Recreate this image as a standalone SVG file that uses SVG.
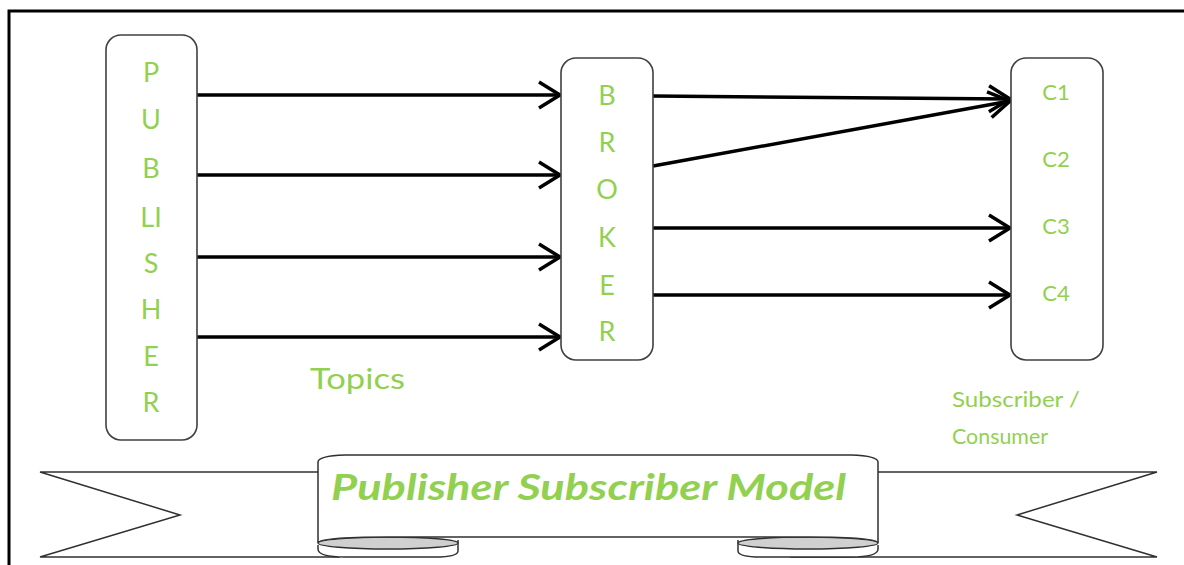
<svg xmlns="http://www.w3.org/2000/svg" width="1184" height="565" viewBox="0 0 1184 565">
<defs>
<style>
.box{fill:#fff;stroke:#404040;stroke-width:1.6}
.lbl{font-family:Lato,"Open Sans","Liberation Sans",sans-serif;fill:#92d050}
.mid{text-anchor:middle}
.big{font-size:27px}
.c{font-size:22px}
.con{stroke:#000;stroke-width:3.5;fill:none;marker-end:url(#ah)}
.rib{fill:#fff;stroke:#303030;stroke-width:1.5}
.fold{fill:#d0d0d0;stroke:#303030;stroke-width:1.3}
</style>
<marker id="ah" markerUnits="userSpaceOnUse" markerWidth="26" markerHeight="30" refX="22" refY="14" orient="auto" viewBox="0 0 26 28">
<path d="M1,1 L22,14 L1,27" fill="none" stroke="#000" stroke-width="3.5"/>
</marker>
</defs>
<rect width="1184" height="565" fill="#fff"/>
<path d="M9,565 V11 H1184" fill="none" stroke="#000" stroke-width="3"/>

<g id="connectors">
<line class="con" x1="197" y1="95" x2="560" y2="95"/>
<line class="con" x1="197" y1="175" x2="560" y2="175"/>
<line class="con" x1="197" y1="257" x2="560" y2="257"/>
<line class="con" x1="197" y1="337" x2="560" y2="337"/>
<line class="con" x1="653" y1="96" x2="1010" y2="99"/>
<line class="con" x1="653" y1="166" x2="1010" y2="101"/>
<line class="con" x1="653" y1="228" x2="1010" y2="228"/>
<line class="con" x1="653" y1="295" x2="1010" y2="295"/>
</g>

<g id="publisher">
<rect class="box" x="106" y="35" width="91" height="405" rx="15"/>
<text class="lbl mid big" x="151" y="82">P</text>
<text class="lbl mid big" x="151" y="129">U</text>
<text class="lbl mid big" x="151" y="178">B</text>
<text class="lbl mid big" x="151" y="227">LI</text>
<text class="lbl mid big" x="151" y="273">S</text>
<text class="lbl mid big" x="151" y="319">H</text>
<text class="lbl mid big" x="151" y="366">E</text>
<text class="lbl mid big" x="151" y="412">R</text>
</g>

<g id="broker">
<rect class="box" x="561" y="58" width="92" height="302" rx="15"/>
<text class="lbl mid big" x="607" y="105">B</text>
<text class="lbl mid big" x="607" y="152">R</text>
<text class="lbl mid big" x="607" y="199">O</text>
<text class="lbl mid big" x="607" y="247">K</text>
<text class="lbl mid big" x="607" y="295">E</text>
<text class="lbl mid big" x="607" y="341">R</text>
</g>

<g id="consumer">
<rect class="box" x="1011" y="58" width="92" height="302" rx="15"/>
<text class="lbl mid c" x="1056" y="100">C1</text>
<text class="lbl mid c" x="1056" y="167">C2</text>
<text class="lbl mid c" x="1056" y="234">C3</text>
<text class="lbl mid c" x="1056" y="301">C4</text>
</g>

<g id="topics">
<text class="lbl" x="310" y="389" font-size="29" textLength="95" lengthAdjust="spacingAndGlyphs">Topics</text>
</g>

<g id="subscriber-label">
<text class="lbl" x="952" y="407" font-size="22" textLength="128" lengthAdjust="spacingAndGlyphs">Subscriber /</text>
<text class="lbl" x="952" y="444" font-size="22" textLength="96" lengthAdjust="spacingAndGlyphs">Consumer</text>
</g>

<g id="banner">
<path class="rib" d="M330,472 H40 L180,515 L40,557 H340"/>
<path class="rib" d="M866,472 H1157 L1017,515 L1157,557 H790"/>
<path class="rib" d="M318,545 V549 Q318,557 345,557 H435 Q458,557 458,551 V540"/>
<ellipse class="fold" cx="388" cy="543" rx="70" ry="6"/>
<path class="rib" d="M878,545 V549 Q878,557 851,557 H761 Q738,557 738,551 V540"/>
<ellipse class="fold" cx="808" cy="543" rx="70" ry="6"/>
<path class="rib" d="M318,543 V462 Q318,456 345,455 H851 Q878,456 878,462 V543 Q878,537 808,537 H388 Q318,537 318,543 Z"/>
<text x="331" y="500" font-family="Lato,'Liberation Sans',Arial,sans-serif" font-weight="bold" font-style="italic" font-size="36" fill="#92d050" textLength="515" lengthAdjust="spacingAndGlyphs">Publisher Subscriber Model</text>
</g>
</svg>
